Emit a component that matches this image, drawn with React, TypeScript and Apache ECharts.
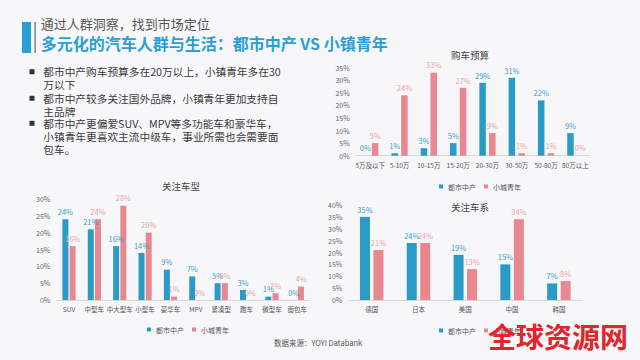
import React, { useEffect, useRef } from "react";
import * as echarts from "echarts";

const budgetCats = ["5万及以下", "5-10万", "10-15万", "15-20万", "20-30万", "30-50万", "50-80万", "80万以上"];
const budgetCity = [0, 1, 3, 5, 29, 31, 22, 9];
const budgetTown = [5, 24, 33, 27, 9, 1, 1, 0];

const typeCats = ["SUV", "中型车", "中大型车", "小型车", "豪华车", "MPV", "紧凑型", "跑车", "微型车", "面包车"];
const typeCity = [24, 21, 16, 14, 9, 7, 5, 3, 1, 0];
const typeTown = [16, 24, 28, 20, 1, 0, 5, 0, 2, 4];

const originCats = ["德国", "日本", "美国", "中国", "韩国"];
const originCity = [35, 24, 19, 15, 7];
const originTown = [21, 24, 13, 34, 8];

const bullets = [
  "都市中产购车预算多在20万以上，小镇青年多在30\n万以下",
  "都市中产较多关注国外品牌，小镇青年更加支持自\n主品牌",
  "都市中产更偏爱SUV、MPV等多功能车和豪华车，\n小镇青年更喜欢主流中级车，事业所需也会需要面\n包车。",
];

const BLUE = "#2a9bc6";
const PINK = "#e8878f";
const BLUE_L = "#3a9fc4";
const PINK_L = "#eca2a8";
const FONT = "Noto Sans CJK SC";

export default function App() {
  const ref = useRef<HTMLDivElement>(null);
  useEffect(() => {
    const chart = echarts.init(ref.current!, null, { renderer: "svg" });
    const grids = [
      { left: 355.6, top: 67.7, width: 234.4, height: 88 },
      { left: 56.3, top: 199, width: 253.7, height: 101 },
      { left: 348.3, top: 205, width: 234, height: 95 },
    ];
    const cats = [budgetCats, typeCats, originCats];
    const maxes = [35, 30, 40];
    const city = [budgetCity, typeCity, originCity];
    const town = [budgetTown, typeTown, originTown];
    const bw = [6.5, 6, 10];
    const gaps = ["50%", "20%", "35%"];
    const series: any[] = [];
    for (let i = 0; i < 3; i++) {
      series.push({
        name: "都市中产",
        type: "bar",
        xAxisIndex: i,
        yAxisIndex: i,
        data: city[i],
        barWidth: bw[i],
        barGap: gaps[i],
        itemStyle: { color: BLUE },
        label: { show: true, position: "top", formatter: "{c}%", color: BLUE_L, fontSize: 7.5, fontFamily: FONT, distance: 4 },
      });
      series.push({
        name: "小城青年",
        type: "bar",
        xAxisIndex: i,
        yAxisIndex: i,
        data: town[i],
        barWidth: bw[i],
        barGap: gaps[i],
        itemStyle: { color: PINK },
        label: { show: true, position: "top", formatter: "{c}%", color: PINK_L, fontSize: 7.5, fontFamily: FONT, distance: 4 },
      });
    }
    const legendBase = {
      data: ["都市中产", "小城青年"],
      itemWidth: 4,
      itemHeight: 4,
      icon: "rect",
      itemGap: 8,
      textStyle: { fontSize: 7, color: "#555", fontFamily: FONT },
    };
    const graphics: any[] = [
      { type: "rect", shape: { x: 22, y: 22, width: 9, height: 31 }, style: { fill: "#2a9fd6" } },
      { type: "rect", shape: { x: 34.5, y: 22, width: 1.2, height: 31 }, style: { fill: "#4a6a80" } },
      { type: "text", x: 40.7, y: 23, style: { text: "通过人群洞察，找到市场定位", fontSize: 13, fill: "#555", fontFamily: FONT, verticalAlign: "middle" } },
      { type: "text", x: 40.7, y: 43, style: { text: "多元化的汽车人群与生活：都市中产 VS 小镇青年", fontSize: 16, fontWeight: "bold", fill: "#2a9fd6", fontFamily: FONT, verticalAlign: "middle" } },
      { type: "text", x: 318, y: 342, style: { text: "数据来源：YOYI Databank", fontSize: 7.5, fill: "#555", fontFamily: FONT, align: "center", verticalAlign: "middle" } },
      { type: "text", x: 558, y: 336, z: 100, style: { text: "全球资源网", fontSize: 28, fontWeight: "bold", fill: "#e0262d", fontFamily: FONT, align: "center", verticalAlign: "middle" } },
    ];
    const bulletYs = [71.7, 98.3, 123.3];
    bulletYs.forEach((y, k) => {
      graphics.push({ type: "rect", shape: { x: 29.5, y: y - 2.5, width: 5, height: 5 }, style: { fill: "#333" } });
      graphics.push({
        type: "text",
        x: 43.3,
        y: y - 6.6,
        style: { text: bullets[k], fontSize: 10.7, lineHeight: 13.2, fill: "#3a3a3a", fontFamily: FONT, verticalAlign: "top" },
      });
    });
    const titleStyle = { fontSize: 9.5, fontWeight: "normal", color: "#444" };
    chart.setOption({
      animation: false,
      backgroundColor: "#f7f7f9",
      textStyle: { fontFamily: FONT },
      title: [
        { text: "购车预算", left: 465, top: 45, textAlign: "center", textStyle: titleStyle } as any,
        { text: "关注车型", left: 176, top: 176, textAlign: "center", textStyle: titleStyle },
        { text: "关注车系", left: 465, top: 197, textAlign: "center", textStyle: titleStyle },
      ],
      legend: [
        { ...legendBase, left: 434, top: 178 },
        { ...legendBase, left: 142, top: 321 },
        { ...legendBase, left: 434, top: 322 },
      ],
      grid: grids,
      xAxis: cats.map((c, i) => ({
        type: "category",
        gridIndex: i,
        data: c,
        axisLine: { lineStyle: { color: "#d8d8d8" } },
        axisTick: { show: false },
        axisLabel: { fontSize: 6.5, color: "#555", interval: 0, margin: 6 },
      })),
      yAxis: maxes.map((m, i) => ({
        type: "value",
        gridIndex: i,
        min: 0,
        max: m,
        interval: 5,
        axisLine: { show: false },
        axisTick: { show: false },
        splitLine: { show: false },
        axisLabel: { fontSize: 7, color: "#666", formatter: "{value}%", margin: 6 },
      })),
      series,
      graphic: graphics,
    });
    return () => chart.dispose();
  }, []);
  return <div ref={ref} style={{ position: "fixed", left: 0, top: 0, width: 640, height: 360 }} />;
}
